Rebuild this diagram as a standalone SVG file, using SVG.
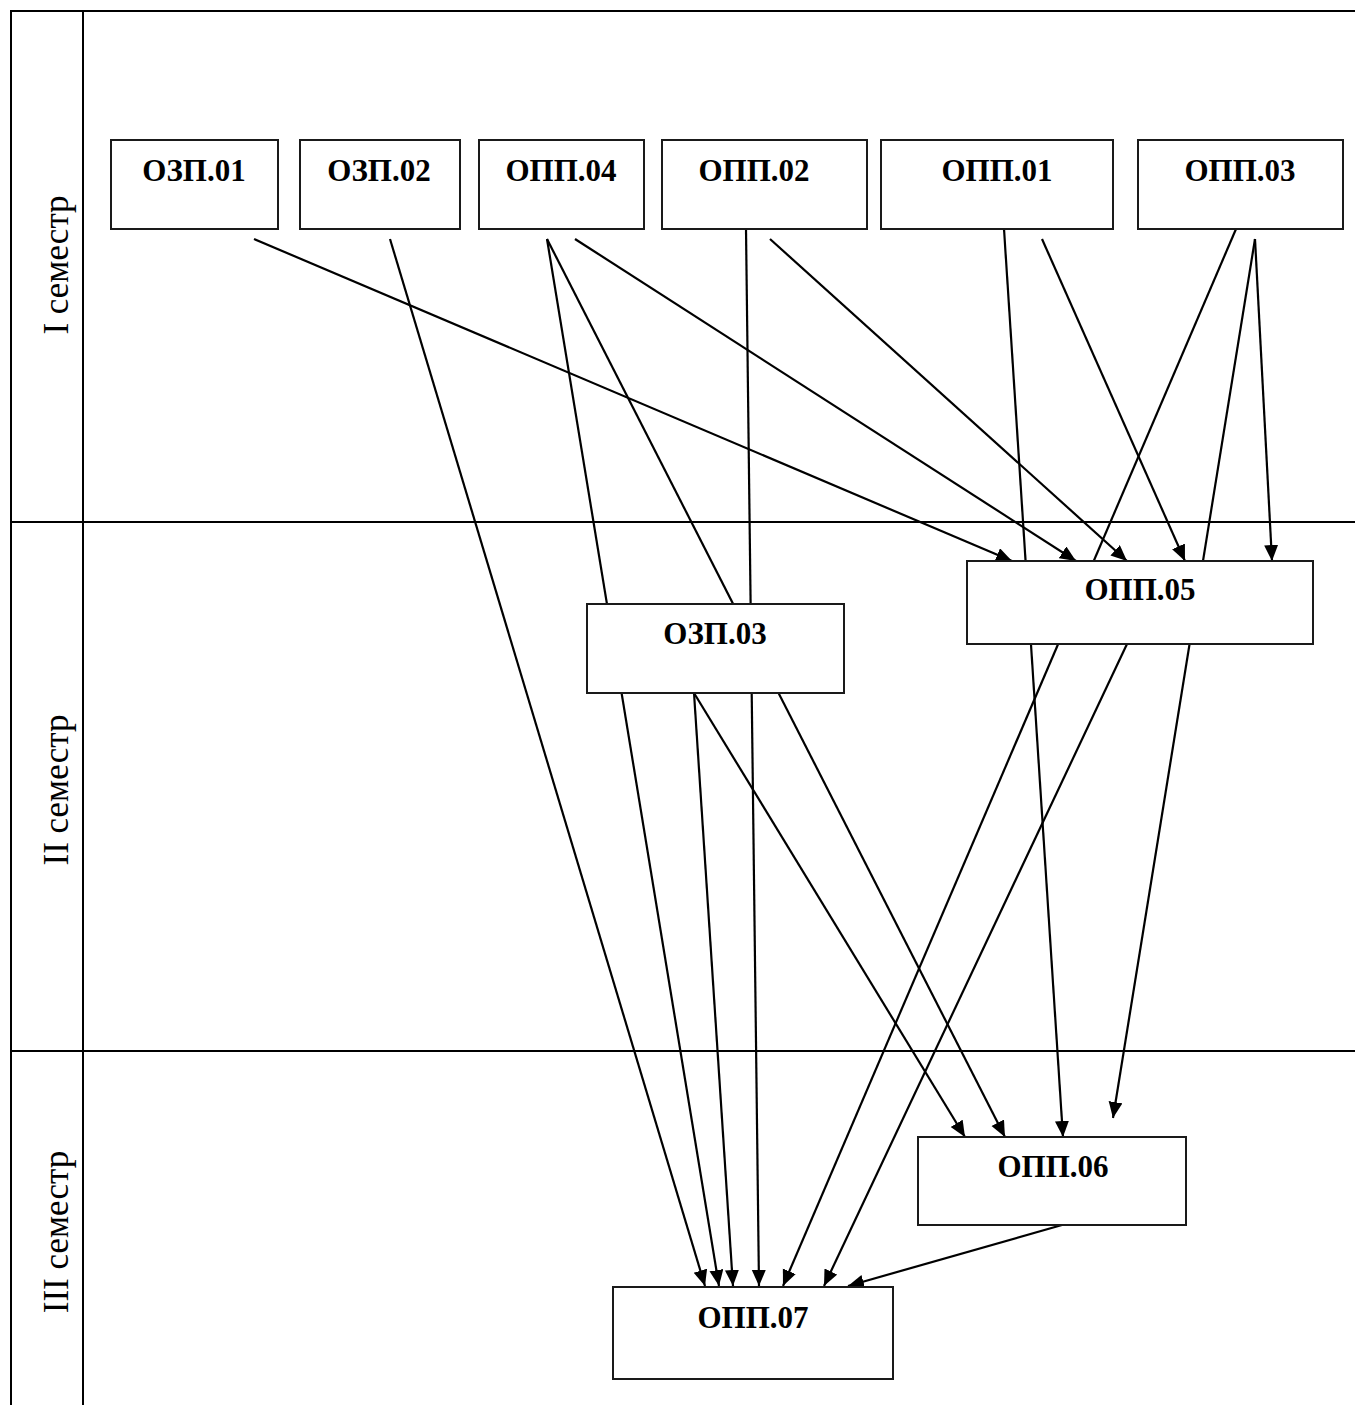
<svg xmlns="http://www.w3.org/2000/svg" width="1355" height="1405" viewBox="0 0 1355 1405">
<style>
.grid{stroke:#000;stroke-width:2;fill:none}
.box{fill:#fff;stroke:#1a1a1a;stroke-width:2}
.lbl{font-family:"Liberation Serif","Times New Roman",serif;font-weight:bold;font-size:31px;text-anchor:middle;fill:#000}
.sem{font-family:"Liberation Serif","Times New Roman",serif;font-size:35px;text-anchor:middle;fill:#000}
.c line{stroke:#000;stroke-width:2.2}
.a{marker-end:url(#ah)}
</style>
<defs>
<marker id="ah" markerUnits="userSpaceOnUse" markerWidth="17" markerHeight="15" refX="16" refY="7" orient="auto">
<path d="M0,0 L16,7 L0,14 z" fill="#000"/>
</marker>
</defs>
<g id="table">
<line class="grid" x1="11" y1="11" x2="1355" y2="11"/>
<line class="grid" x1="11" y1="10" x2="11" y2="1405"/>
<line class="grid" x1="83" y1="11" x2="83" y2="1405"/>
<line class="grid" x1="11" y1="522" x2="1355" y2="522"/>
<line class="grid" x1="11" y1="1051" x2="1355" y2="1051"/>
<text class="sem" transform="translate(68,265) rotate(-90)">I семестр</text>
<text class="sem" transform="translate(68,790) rotate(-90)">II семестр</text>
<text class="sem" transform="translate(68,1232) rotate(-90)">III семестр</text>
</g>
<g id="connectors" class="c">
<line class="a" x1="254" y1="239" x2="1012" y2="561"/>
<line class="a" x1="390" y1="239" x2="705" y2="1286"/>
<line class="a" x1="547" y1="239" x2="719" y2="1286"/>
<line class="a" x1="547" y1="239" x2="1005" y2="1137"/>
<line class="a" x1="575" y1="239" x2="1076" y2="561"/>
<line class="a" x1="746" y1="229" x2="759" y2="1286"/>
<line class="a" x1="770" y1="239" x2="1127" y2="561"/>
<line class="a" x1="1004" y1="229" x2="1063" y2="1137"/>
<line class="a" x1="1042" y1="239" x2="1185" y2="561"/>
<line class="a" x1="1236" y1="229" x2="783" y2="1286"/>
<line class="a" x1="1255" y1="239" x2="1113" y2="1118"/>
<line class="a" x1="1255" y1="239" x2="1272" y2="561"/>
<line class="a" x1="694" y1="693" x2="733" y2="1286"/>
<line class="a" x1="694" y1="693" x2="965" y2="1137"/>
<line class="a" x1="1127" y1="644" x2="824" y2="1286"/>
<line class="a" x1="1062" y1="1225" x2="848" y2="1286"/>
</g>
<g id="ozp01"><rect class="box" x="111" y="140" width="167" height="89"/><text class="lbl" x="194" y="181">ОЗП.01</text></g>
<g id="ozp02"><rect class="box" x="300" y="140" width="160" height="89"/><text class="lbl" x="379" y="181">ОЗП.02</text></g>
<g id="opp04"><rect class="box" x="479" y="140" width="165" height="89"/><text class="lbl" x="561" y="181">ОПП.04</text></g>
<g id="opp02"><rect class="box" x="662" y="140" width="205" height="89"/><text class="lbl" x="754" y="181">ОПП.02</text></g>
<g id="opp01"><rect class="box" x="881" y="140" width="232" height="89"/><text class="lbl" x="997" y="181">ОПП.01</text></g>
<g id="opp03"><rect class="box" x="1138" y="140" width="205" height="89"/><text class="lbl" x="1240" y="181">ОПП.03</text></g>
<g id="opp05"><rect class="box" x="967" y="561" width="346" height="83"/><text class="lbl" x="1140" y="600">ОПП.05</text></g>
<g id="ozp03"><rect class="box" x="587" y="604" width="257" height="89"/><text class="lbl" x="715" y="644">ОЗП.03</text></g>
<g id="opp06"><rect class="box" x="918" y="1137" width="268" height="88"/><text class="lbl" x="1053" y="1177">ОПП.06</text></g>
<g id="opp07"><rect class="box" x="613" y="1287" width="280" height="92"/><text class="lbl" x="753" y="1328">ОПП.07</text></g>
</svg>
